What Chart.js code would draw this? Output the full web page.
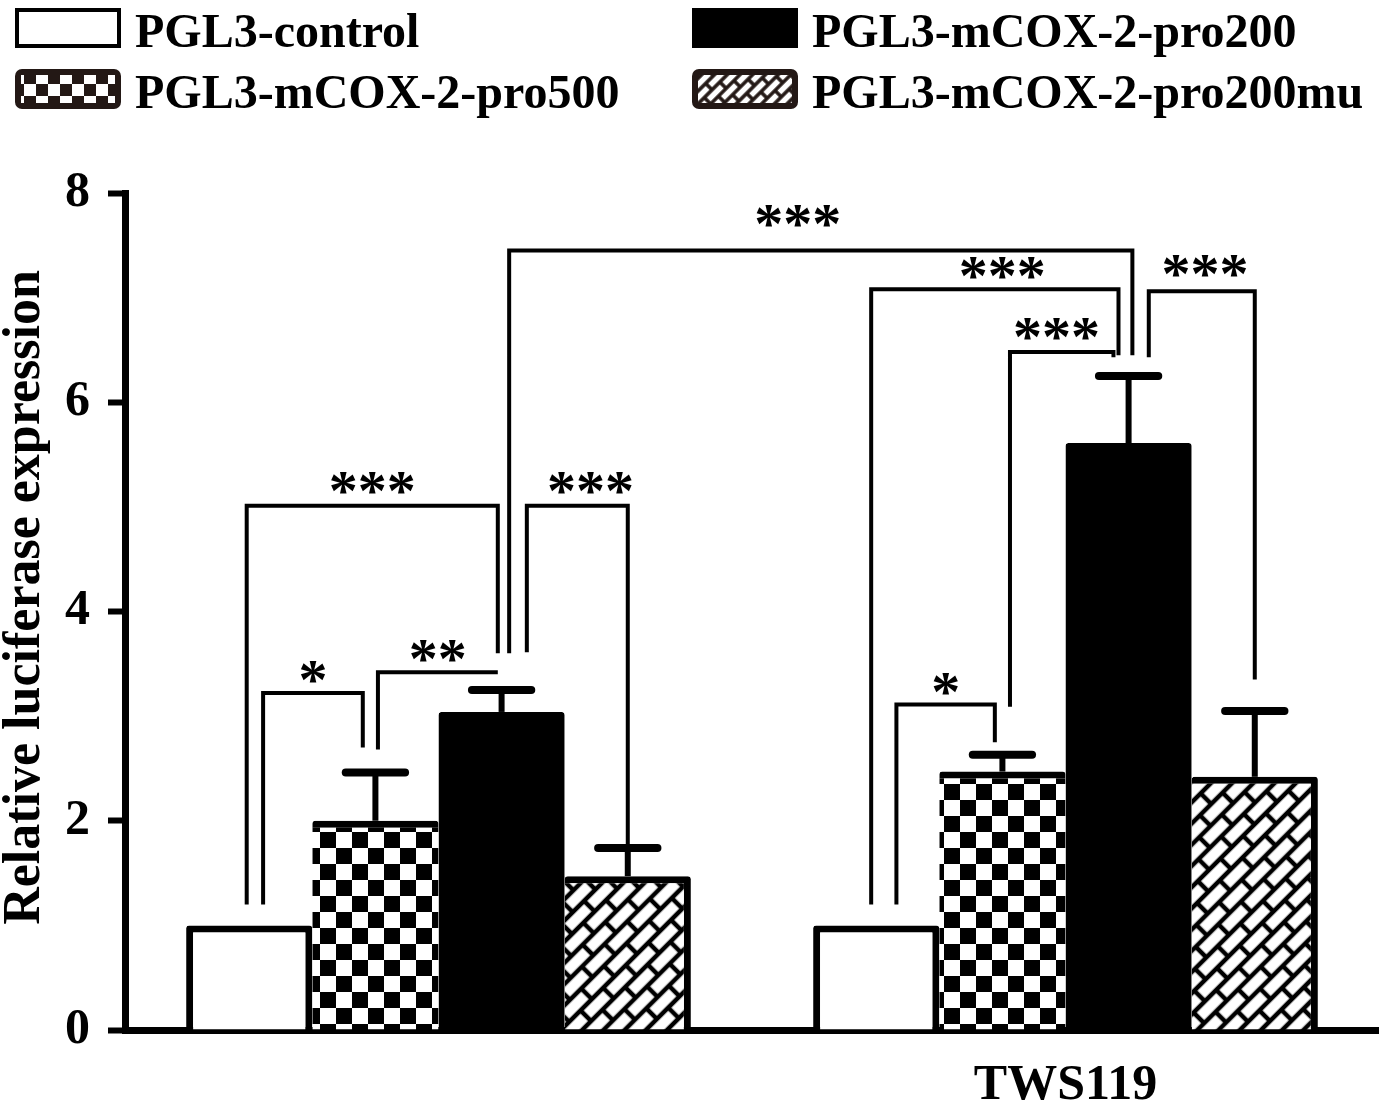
<!DOCTYPE html>
<html><head><meta charset="utf-8">
<script src="https://cdn.jsdelivr.net/npm/chart.js@4.4.0/dist/chart.umd.min.js"></script>
<style>html,body{margin:0;padding:0;background:#fff;} #wrap{width:1379px;height:1107px;}</style>
</head><body><div id="wrap"><canvas id="c" width="1379" height="1107"></canvas></div>
<script>
// ---- data ----
const categories = ['', 'TWS119'];
const seriesLabels = ['PGL3-control', 'PGL3-mCOX-2-pro500', 'PGL3-mCOX-2-pro200', 'PGL3-mCOX-2-pro200mu'];
const controlValues = [1.0, 1.0];
const pro500Values = [2.0, 2.47];
const pro200Values = [3.04, 5.61];
const muValues = [1.47, 2.42];
const controlErr = [0, 0];
const pro500Err = [0.46, 0.16];
const pro200Err = [0.21, 0.64];
const muErr = [0.27, 0.63];
const yTicks = [0, 2, 4, 6, 8];
const yTitle = 'Relative luciferase expression';
// significance brackets: [groupA, seriesA, offsetA, legEndA, groupB, seriesB, offsetB, legEndB, level, label, labelPos, labelLift]
const brackets = [
  [0, 0, 0.11, 1.2, 0, 1, -0.10, 2.70, 3.22, '*', 0.5, 0],
  [0, 1, 0.02, 2.68, 0, 2, -0.03, null, 3.42, '**', 0.5, 0],
  [0, 0, -0.02, 1.2, 0, 2, -0.03, 3.60, 5.01, '***', 0.5, 2],
  [0, 2, 0.20, 3.61, 0, 3, 0.0, 1.72, 5.01, '***', 0.63, 2],
  [0, 2, 0.06, 3.60, 1, 2, 0.03, 6.45, 7.45, '***', 0.463, 14],
  [1, 0, 0.16, 1.2, 1, 1, -0.06, 2.75, 3.11, '*', 0.5, 0],
  [1, 0, -0.04, 1.2, 1, 2, -0.08, 6.45, 7.08, '***', 0.53, 0],
  [1, 1, 0.06, 3.09, 1, 2, -0.12, 6.43, 6.48, '***', 0.45, 2],
  [1, 2, 0.16, 6.43, 1, 3, 0.0, 3.35, 7.06, '***', 0.53, 4]
];

const FONT = "'Liberation Serif', 'Times New Roman', serif";
const canvas = document.getElementById('c');
const ctx = canvas.getContext('2d');

function checkerPattern(cell, dark, light) {
  const c = document.createElement('canvas'); c.width = c.height = cell * 2;
  const x = c.getContext('2d');
  x.fillStyle = light; x.fillRect(0, 0, cell * 2, cell * 2);
  x.fillStyle = dark; x.fillRect(0, 0, cell, cell); x.fillRect(cell, cell, cell, cell);
  return ctx.createPattern(c, 'repeat');
}
function brickPattern(h, L, lw, dark, light) {
  const c = document.createElement('canvas'); c.width = L; c.height = 2 * h;
  const x = c.getContext('2d');
  x.fillStyle = light; x.fillRect(0, 0, L, 2 * h);
  x.fillStyle = dark;
  x.fillRect(0, -lw / 2, L, lw); x.fillRect(0, h - lw / 2, L, lw); x.fillRect(0, 2 * h - lw / 2, L, lw);
  x.fillRect(-lw / 2, 0, lw, h); x.fillRect(L - lw / 2, 0, lw, h); x.fillRect(L / 2 - lw / 2, h, lw, h);
  const p = ctx.createPattern(c, 'repeat');
  p.setTransform(new DOMMatrix().rotateSelf(-45));
  return p;
}

const checkerFill = checkerPattern(16, '#000', '#fff');
const brickFill = brickPattern(15, 32, 4.5, '#000', '#fff');
const checkerLegend = checkerPattern(12, '#231815', '#fff');
const brickLegend = brickPattern(9, 22, 3.5, '#231815', '#fff');

const fills = ['#ffffff', checkerFill, '#000000', brickFill];
const borders = [
  { top: 7, left: 7, right: 7, bottom: 0 },
  { top: 7, left: 0, right: 0, bottom: 0 },
  { top: 7, left: 0, right: 0, bottom: 0 },
  { top: 7, left: 0, right: 7, bottom: 0 }
];
const values = [controlValues, pro500Values, pro200Values, muValues];
const errs = [controlErr, pro500Err, pro200Err, muErr];

const datasets = seriesLabels.map((lab, i) => ({
  label: lab, data: values[i], err: errs[i], backgroundColor: fills[i],
  borderColor: '#000', borderWidth: borders[i], borderSkipped: 'bottom', borderRadius: 3
}));

const overlay = {
  id: 'overlay',
  afterDatasetsDraw(chart) {
    const c = chart.ctx, y = chart.scales.y;
    c.save();
    c.strokeStyle = '#000';
    chart.data.datasets.forEach((ds, di) => {
      const meta = chart.getDatasetMeta(di);
      meta.data.forEach((bar, gi) => {
        const e = ds.err[gi];
        if (!e) return;
        const top = y.getPixelForValue(ds.data[gi] + e);
        c.lineWidth = 6; c.lineCap = 'butt';
        c.beginPath(); c.moveTo(bar.x, bar.y); c.lineTo(bar.x, top); c.stroke();
        c.lineWidth = 8; c.lineCap = 'round';
        const hw = bar.width * 0.235;
        c.beginPath(); c.moveTo(bar.x - hw, top); c.lineTo(bar.x + hw, top); c.stroke();
      });
    });
    c.lineWidth = 4; c.lineCap = 'butt'; c.lineJoin = 'miter';
    c.fillStyle = '#000';
    c.font = 'bold 58px ' + FONT;
    c.textAlign = 'center'; c.textBaseline = 'alphabetic';
    brackets.forEach(b => {
      const [gA, sA, oA, eA, gB, sB, oB, eB, lev, lab, lp, lift] = b;
      const barA = chart.getDatasetMeta(sA).data[gA];
      const barB = chart.getDatasetMeta(sB).data[gB];
      const x1 = barA.x + oA * barA.width;
      const x2 = barB.x + oB * barB.width;
      const yl = y.getPixelForValue(lev);
      c.beginPath();
      c.moveTo(x1, y.getPixelForValue(eA));
      c.lineTo(x1, yl);
      c.lineTo(x2, yl);
      if (eB !== null) c.lineTo(x2, y.getPixelForValue(eB));
      c.stroke();
      c.fillText(lab, x1 + (x2 - x1) * lp, yl + 6 - lift);
    });
    c.restore();
  },
  afterDraw(chart) {
    const c = chart.ctx;
    c.save();
    // y-axis title
    c.save();
    c.translate(26, (chart.chartArea.top + chart.chartArea.bottom) / 2 - 14);
    c.rotate(-Math.PI / 2);
    c.font = 'bold 52px ' + FONT;
    c.textAlign = 'center'; c.textBaseline = 'middle'; c.fillStyle = '#000';
    c.fillText(yTitle, 0, 0);
    c.restore();
    // legend
    const cols = [15, 692], rows = [8, 69];
    const order = [[0, 0, 0], [2, 1, 0], [1, 0, 1], [3, 1, 1]];
    c.font = 'bold 48px ' + FONT;
    c.textAlign = 'left'; c.textBaseline = 'alphabetic'; c.fillStyle = '#000';
    order.forEach(([si, col, row]) => {
      const bx = cols[col], by = rows[row], bw = 106, bh = 40;
      if (si === 0) {
        c.fillStyle = '#fff'; c.fillRect(bx, by, bw, bh);
        c.strokeStyle = '#000'; c.lineWidth = 4; c.strokeRect(bx + 2, by + 2, bw - 4, bh - 4);
      } else if (si === 2) {
        c.fillStyle = '#000'; c.fillRect(bx, by, bw, bh);
      } else {
        c.fillStyle = '#231815';
        c.beginPath(); c.roundRect(bx, by, bw, bh, 7); c.fill();
        c.fillStyle = si === 1 ? checkerLegend : brickLegend;
        c.fillRect(bx + 6, by + 6, bw - 12, bh - 12);
      }
      c.fillStyle = '#000';
      c.fillText(chart.data.datasets[si].label, bx + 120, by + 39);
    });
    c.restore();
  }
};

new Chart(canvas, {
  type: 'bar',
  data: { labels: categories, datasets: datasets },
  plugins: [overlay],
  options: {
    responsive: false, animation: false, devicePixelRatio: 1,
    layout: { padding: { top: 193, left: 0, right: 0, bottom: 0 } },
    plugins: { legend: { display: false }, tooltip: { enabled: false } },
    datasets: { bar: { categoryPercentage: 0.805, barPercentage: 1 } },
    scales: {
      x: {
        grid: { display: false, drawTicks: false },
        border: { display: true, color: '#000', width: 7 },
        ticks: { color: '#000', font: { family: FONT, size: 50, weight: 'bold' }, padding: 26 },
        afterFit: s => { s.height = 77; }
      },
      y: {
        min: 0, max: 8,
        afterBuildTicks: s => { s.ticks = yTicks.map(v => ({ value: v })); },
        ticks: { color: '#000', font: { family: FONT, size: 50, weight: 'bold' }, padding: 18 },
        grid: { drawOnChartArea: false, drawTicks: true, tickLength: 17, tickWidth: 6, color: '#000' },
        border: { display: true, color: '#000', width: 7 },
        title: { display: false },
        afterFit: s => { s.width = 125; }
      }
    }
  }
});
</script>
</body></html>
